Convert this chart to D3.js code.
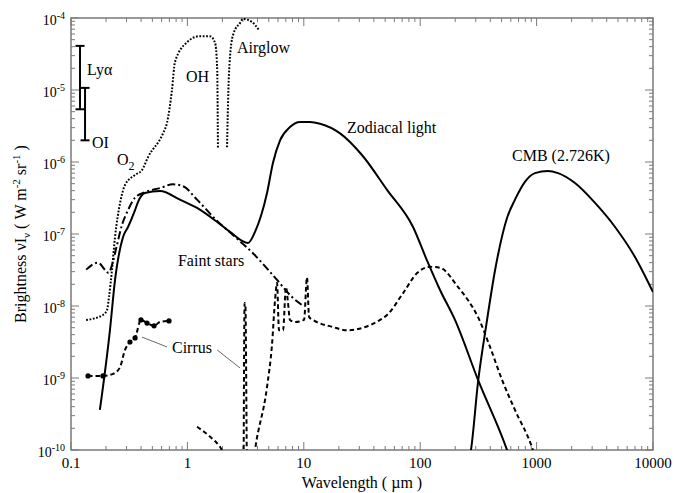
<!DOCTYPE html>
<html><head><meta charset="utf-8">
<script src="https://cdn.jsdelivr.net/npm/d3@7"></script>
<style>body{margin:0;background:#fff} svg text{font-family:"Liberation Serif","DejaVu Serif","Noto Serif",serif;}</style>
</head><body><svg id="c" width="675" height="493"></svg>
<script>
// ---------- data ----------
const xDomain = [0.1, 10000];
const yDomain = [1e-10, 1e-4];
const xTickLabels = ["0.1", "1", "10", "100", "1000", "10000"];
const yTickExps = ["-4", "-5", "-6", "-7", "-8", "-9", "-10"];

// Airglow (dotted), two pieces either side of the 1.9 µm gap
const airglowA = [[0.135,6.4e-9],[0.188,7.5e-9],[0.204,8.8e-9],[0.212,1.33e-8],[0.225,3.2e-8],[0.239,9.1e-8],
  [0.264,2.7e-7],[0.291,4.8e-7],[0.355,6.6e-7],[0.407,7.7e-7],[0.459,1.17e-6],[0.617,2.5e-6],[0.668,3.5e-6],
  [0.737,1.0e-5],[0.782,2.45e-5],[0.993,4.6e-5],[1.28,5.6e-5],[1.56,5.6e-5],[1.73,4.5e-5],[1.80,2.1e-5],[1.83,1.56e-6]];
const airglowB = [[2.19,1.6e-6],[2.25,1.0e-5],[2.35,3.6e-5],[2.5,6.2e-5],[2.83,8.5e-5],[3.0,9.7e-5],[3.59,8.8e-5],[4.12,6.8e-5]];

// Zodiacal light (solid)
const zodiacal = [[0.177,3.6e-10],[0.216,4.6e-9],[0.239,2.3e-8],[0.28,9.1e-8],[0.309,1.25e-7],[0.355,2.15e-7],
  [0.377,2.8e-7],[0.432,3.7e-7],[0.582,3.95e-7],[0.863,3.0e-7],[1.21,2.3e-7],[1.8,1.47e-7],[2.32,1.07e-7],
  [3.32,7.5e-8],[3.81,1.07e-7],[4.83,3.7e-7],[5.43,9.7e-7],[6.25,2.0e-6],[7.61,3.06e-6],[9.27,3.6e-6],
  [11.3,3.6e-6],[13.8,3.4e-6],[20.5,2.5e-6],[31.6,1.25e-6],[51.9,4.1e-7],[86.8,1.25e-7],[114,4.35e-8],
  [148,1.67e-8],[199,6.4e-9],[314,9.4e-10],[557,1e-10],[620,6e-11]];

// Faint stars (dash-dot)
const faintStars = [[0.135,3.2e-8],[0.17,4.0e-8],[0.21,2.9e-8],[0.228,4.0e-8],[0.248,7.0e-8],[0.274,1.33e-7],
  [0.309,2.15e-7],[0.355,3.2e-7],[0.432,3.8e-7],[0.582,4.35e-7],[0.75,4.9e-7],[0.92,4.6e-7],[1.21,3.0e-7],
  [1.8,1.52e-7],[2.46,9.7e-8],[3.66,5.4e-8],[5.89,2.3e-8],[7.93,1.33e-8],[9.66,1.03e-8]];

// CMB 2.726 K (solid)
const cmb = [[255,6e-11],[273,1e-10],[314,8.8e-10],[370,5.5e-9],[440,3.16e-8],[557,1.67e-7],[652,3.0e-7],
  [794,5.3e-7],[968,7.0e-7],[1253,7.5e-7],[1528,7.0e-7],[2138,5.1e-7],[3177,2.7e-7],[4721,1.25e-7],
  [7000,4.8e-8],[10000,1.56e-8]];

// Cirrus (dashed), three pieces
const cirrusUV = [[0.14,1.07e-9],[0.188,1.07e-9],[0.23,1.14e-9],[0.264,1.42e-9],[0.291,2.45e-9],[0.321,3.16e-9],
  [0.355,3.6e-9],[0.399,6.4e-9],[0.45,5.8e-9],[0.517,5.3e-9],[0.582,6.0e-9],[0.695,6.2e-9]];
const cirrusDotIdx = [0, 1, 5, 6, 7, 8, 9, 11];
const cirrusNIR = [[1.21,2.1e-10],[1.55,1.55e-10],[1.91,1.1e-10],[2.15,8e-11]];
const cirrusIR = [[3.04,5e-11],[3.1,1.1e-8],[3.15,1.05e-8],[3.26,5e-11],[3.6,5e-11],[3.81,1e-10],[4.83,7.5e-10],[5.33,2.9e-9],
  [5.66,1.2e-8],[5.89,2.1e-8],[6.12,4.6e-9],[6.63,4.6e-9],[7.03,1.84e-8],[7.28,1.2e-8],[7.61,6.4e-9],
  [8.4,6.0e-9],[10.05,6.4e-9],[10.65,2.5e-8],[11.1,7.0e-9],[12.0,6.4e-9],[17.8,5.1e-9],[23.5,4.6e-9],
  [33.6,5.1e-9],[45.2,6.4e-9],[51.9,7.5e-9],[71.1,1.5e-8],[94,2.87e-8],[121,3.5e-8],[148,3.4e-8],
  [211,1.84e-8],[258,1.2e-8],[314,7.0e-9],[398,2.7e-9],[505,9.4e-10],[652,3.6e-10],[912,1.1e-10],[1000,7e-11]];

// Line-emission ranges: [wavelength, low, high]
const lyaBar = [0.1195, 5.4e-6, 4.1e-5];
const oiBar = [0.132, 2.0e-6, 1.07e-5];

// ---------- chart ----------
const svg = d3.select("#c");
const L = 71, R = 653, T = 18, B = 450;
const x = d3.scaleLog().domain(xDomain).range([L, R]);
const y = d3.scaleLog().domain(yDomain).range([B, T]);
const axisCol = "#7a7a7a";

svg.append("defs").append("clipPath").attr("id", "plot")
  .append("rect").attr("x", L).attr("y", T).attr("width", R - L).attr("height", B - T);

const isMajor = v => Math.abs(Math.log10(v) - Math.round(Math.log10(v))) < 1e-6;
const gt = svg.append("g").attr("stroke", axisCol).attr("stroke-width", 1);
x.ticks().forEach(t => {
  const len = isMajor(t) ? 8 : 4, px = x(t);
  gt.append("line").attr("x1", px).attr("x2", px).attr("y1", B).attr("y2", B - len);
  gt.append("line").attr("x1", px).attr("x2", px).attr("y1", T).attr("y2", T + len);
});
y.ticks().forEach(t => {
  const len = isMajor(t) ? 8 : 4, py = y(t);
  gt.append("line").attr("y1", py).attr("y2", py).attr("x1", L).attr("x2", L + len);
  gt.append("line").attr("y1", py).attr("y2", py).attr("x1", R).attr("x2", R - len);
});
svg.append("rect").attr("x", L).attr("y", T).attr("width", R - L).attr("height", B - T)
  .attr("fill", "none").attr("stroke", axisCol).attr("stroke-width", 1.5);

// tick labels
xTickLabels.forEach(s => {
  svg.append("text").attr("x", x(+s)).attr("y", 468).attr("text-anchor", "middle")
    .attr("font-size", 15).text(s);
});
yTickExps.forEach(e => {
  const t = svg.append("text").attr("x", 65).attr("y", y(Math.pow(10, +e)) + 7).attr("text-anchor", "end")
    .attr("font-size", 14);
  t.append("tspan").text("10");
  t.append("tspan").attr("dy", -6).attr("font-size", 10).text(e);
});

// axis titles
svg.append("text").attr("x", (L + R) / 2).attr("y", 488).attr("text-anchor", "middle")
  .attr("font-size", 16).text("Wavelength ( µm )");
const yt = svg.append("text").attr("transform", `translate(26,${(T + B) / 2}) rotate(-90)`)
  .attr("text-anchor", "middle").attr("font-size", 16);
yt.append("tspan").text("Brightness νI");
yt.append("tspan").attr("dy", 4).attr("font-size", 11).text("ν");
yt.append("tspan").attr("dy", -4).text(" ( W m");
yt.append("tspan").attr("dy", -6).attr("font-size", 11).text("-2");
yt.append("tspan").attr("dy", 6).text(" sr");
yt.append("tspan").attr("dy", -6).attr("font-size", 11).text("-1");
yt.append("tspan").attr("dy", 6).text(" )");

// curves
const line = d3.line().x(d => x(d[0])).y(d => y(d[1])).curve(d3.curveMonotoneX);
const gc = svg.append("g").attr("clip-path", "url(#plot)").attr("fill", "none").attr("stroke", "#000");
const draw = (data, w, dash) => gc.append("path").attr("d", line(data)).attr("stroke-width", w)
  .attr("stroke-dasharray", dash);
draw(airglowA, 2, "1.8,1.6");
draw(airglowB, 2, "1.8,1.6");
draw(zodiacal, 2, null);
draw(cmb, 2, null);
draw(faintStars, 2, "8,3,2,3");
draw(cirrusUV, 2, "4.5,3");
draw(cirrusNIR, 2, "4.5,3");
draw(cirrusIR, 2, "4.5,3");
cirrusDotIdx.forEach(i => {
  svg.append("circle").attr("cx", x(cirrusUV[i][0])).attr("cy", y(cirrusUV[i][1])).attr("r", 2.6).attr("fill", "#000");
});

// line-emission bars
[lyaBar, oiBar].forEach(b => {
  const px = x(b[0]);
  const g = svg.append("g").attr("stroke", "#000").attr("stroke-width", 2);
  g.append("line").attr("x1", px).attr("x2", px).attr("y1", y(b[1])).attr("y2", y(b[2]));
  [b[1], b[2]].forEach(v => g.append("line").attr("x1", px - 4.5).attr("x2", px + 4.5).attr("y1", y(v)).attr("y2", y(v)));
});

// annotations (anchored in data coordinates)
const lab = (s, wl, br) => svg.append("text").attr("x", x(wl)).attr("y", y(br))
  .attr("font-size", 16).text(s);
lab("Lyα", 0.1373, 1.62e-5);
lab("OI", 0.1513, 1.56e-6);
const o2 = lab("O", 0.2484, 9.1e-7);
o2.append("tspan").attr("dy", 5).attr("font-size", 12).text("2");
lab("OH", 0.973, 1.29e-5);
lab("Airglow", 2.67, 3.27e-5);
lab("Zodiacal light", 23.5, 2.53e-6);
lab("CMB (2.726K)", 615, 1.03e-6);
lab("Faint stars", 0.83, 3.6e-8);
lab("Cirrus", 0.737, 2.2e-9);
const gl = svg.append("g").attr("stroke", "#444").attr("stroke-width", 0.8);
[[[0.407,3.7e-9],[0.668,2.7e-9]], [[1.80,2.45e-9],[2.83,1.38e-9]]].forEach(p => {
  gl.append("line").attr("x1", x(p[0][0])).attr("y1", y(p[0][1])).attr("x2", x(p[1][0])).attr("y2", y(p[1][1]));
});
</script></body></html>
